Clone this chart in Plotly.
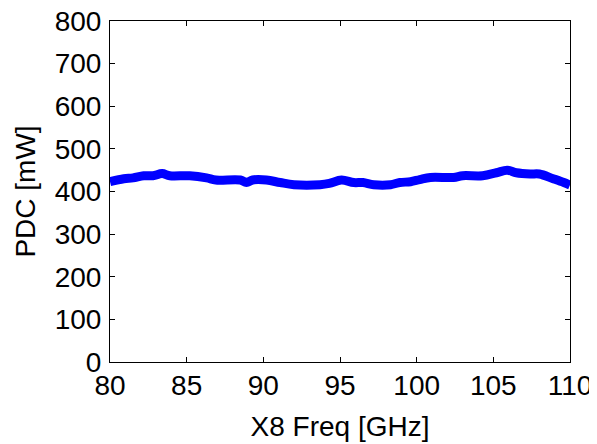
import plotly.graph_objects as go

freq_ghz = [80, 80.9, 81.5, 82.2, 82.8, 83.4, 83.9, 85.2, 86.3, 86.9, 88.5, 88.9, 89.3,
            90.2, 91.1, 92, 93.7, 94.3, 95.1, 95.9, 96.5, 97.2, 98.3, 98.9, 99.6, 100.2,
            100.9, 102.4, 103, 104.3, 105.2, 105.9, 106.5, 107.4, 108, 108.9, 109.6, 110]
pdc_mw = [423, 430, 432, 437, 437, 442, 437, 437, 432, 427, 427, 421, 427,
          427, 421, 416, 416, 419, 427, 421, 421, 416, 416, 421, 423, 428,
          433, 433, 437, 437, 444, 450, 444, 441, 441, 430, 421, 415]

x_ticks = [80, 85, 90, 95, 100, 105, 110]
y_ticks = [0, 100, 200, 300, 400, 500, 600, 700, 800]

fig = go.Figure()
fig.add_trace(go.Scatter(x=freq_ghz, y=pdc_mw, mode="lines",
                         line=dict(color="#0000FF", width=9), line_shape="spline"))

font = dict(family="Liberation Sans, Arial, sans-serif", size=28, color="black")
axis_common = dict(showline=True, linecolor="black", linewidth=1, mirror="allticks",
                   ticks="inside", ticklen=5, tickwidth=1, tickcolor="black",
                   showgrid=False, zeroline=False, tickfont=font, automargin=False,
                   ticklabeloverflow="allow")

fig.update_xaxes(range=[80, 110], tickvals=x_ticks, ticktext=[str(v) for v in x_ticks],
                 ticklabelstandoff=-2,
                 title=dict(text="X8 Freq [GHz]", font=font, standoff=16), **axis_common)
fig.update_yaxes(range=[0, 800], tickvals=y_ticks, ticktext=[str(v) for v in y_ticks],
                 ticklabelstandoff=2,
                 title=dict(text="PDC [mW]", font=font, standoff=10), **axis_common)

# page body has an 8 px margin, so the figure is sized to end at the window edge
fig.update_layout(width=589, height=436, margin=dict(l=102, r=27, t=13, b=82),
                  plot_bgcolor="white", paper_bgcolor="white", showlegend=False,
                  font=font)
fig.write_html("out.html")
